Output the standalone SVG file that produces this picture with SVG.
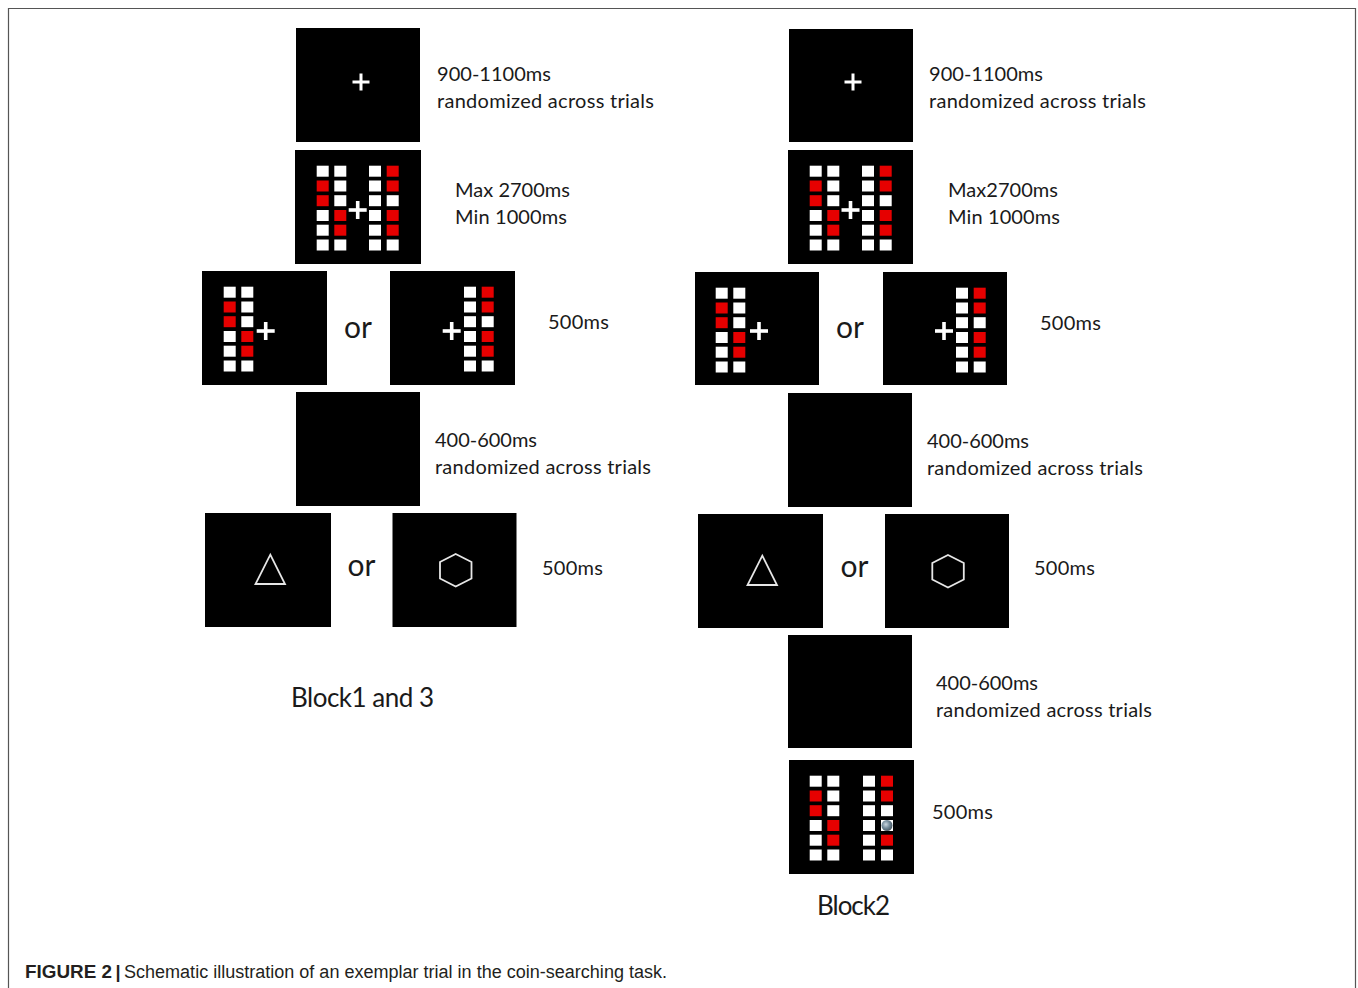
<svg xmlns="http://www.w3.org/2000/svg" xmlns:xlink="http://www.w3.org/1999/xlink" width="1358" height="988" viewBox="0 0 1358 988">
<style>
.panel{fill:#000}
.w{fill:#fff}
.r{fill:#e60000}
.lbl{font-family:Lato,"Open Sans","Noto Sans",sans-serif;font-size:20px;fill:#1a1a1a}
.or{font-family:Lato,"Open Sans","Noto Sans",sans-serif;font-size:30px;fill:#1a1a1a}
.blk{font-family:Lato,"Open Sans","Noto Sans",sans-serif;font-size:26px;fill:#1a1a1a}
.shape{fill:none;stroke:#e6e6e6;stroke-width:1.8}
.cap{font-family:"Liberation Sans",Arial,sans-serif;font-size:18px;fill:#231f20}
</style>
<defs>
<g id="colsL">
<rect class="w" x="21.7" y="15.7" width="12" height="11"/>
<rect class="r" x="21.7" y="30.5" width="12" height="11"/>
<rect class="r" x="21.7" y="45.2" width="12" height="11"/>
<rect class="w" x="21.7" y="60" width="12" height="11"/>
<rect class="w" x="21.7" y="74.7" width="12" height="11"/>
<rect class="w" x="21.7" y="89.5" width="12" height="11"/>
<rect class="w" x="39.3" y="15.7" width="12" height="11"/>
<rect class="w" x="39.3" y="30.5" width="12" height="11"/>
<rect class="w" x="39.3" y="45.2" width="12" height="11"/>
<rect class="r" x="39.3" y="60" width="12" height="11"/>
<rect class="r" x="39.3" y="74.7" width="12" height="11"/>
<rect class="w" x="39.3" y="89.5" width="12" height="11"/>
</g>
<g id="col3">
<rect class="w" x="74" y="15.7" width="12" height="11"/>
<rect class="w" x="74" y="30.5" width="12" height="11"/>
<rect class="w" x="74" y="45.2" width="12" height="11"/>
<rect class="w" x="74" y="60" width="12" height="11"/>
<rect class="w" x="74" y="74.7" width="12" height="11"/>
<rect class="w" x="74" y="89.5" width="12" height="11"/>
</g>
<g id="colsR">
<use xlink:href="#col3"/>
<rect class="r" x="91.7" y="15.7" width="12" height="11"/>
<rect class="r" x="91.7" y="30.5" width="12" height="11"/>
<rect class="w" x="91.7" y="45.2" width="12" height="11"/>
<rect class="r" x="91.7" y="60" width="12" height="11"/>
<rect class="r" x="91.7" y="74.7" width="12" height="11"/>
<rect class="w" x="91.7" y="89.5" width="12" height="11"/>
</g>
<g id="cross">
<rect class="w" x="-9" y="-1.8" width="18" height="3.6"/>
<rect class="w" x="-1.8" y="-9" width="3.6" height="18"/>
</g>
<g id="fix">
<rect class="w" x="-8.5" y="-1.5" width="17" height="3"/>
<rect class="w" x="-1.5" y="-8.5" width="3" height="17"/>
</g>
<radialGradient id="coin" cx="0.4" cy="0.4" r="0.6">
<stop offset="0" stop-color="#c9d6e0"/>
<stop offset="0.6" stop-color="#6f8797"/>
<stop offset="1" stop-color="#4d5c66"/>
</radialGradient>
</defs>

<rect x="0" y="0" width="1358" height="988" fill="#fff"/>
<path d="M8.5 995 V8.5 H1355.5 V995" fill="none" stroke="#555" stroke-width="1.2"/>

<!-- Left column: Block1 and 3 -->
<g id="L1">
<rect class="panel" x="296" y="28" width="124" height="114"/>
<use xlink:href="#fix" x="361" y="82"/>
<text class="lbl" x="437" y="81" textLength="114">900-1100ms</text>
<text class="lbl" x="437" y="108" textLength="217">randomized across trials</text>
</g>
<g id="L2">
<rect class="panel" x="295" y="150" width="126" height="114"/>
<use xlink:href="#colsL" x="295" y="150"/>
<use xlink:href="#colsR" x="295" y="150"/>
<use xlink:href="#cross" x="357.7" y="210"/>
<text class="lbl" x="455" y="197" textLength="115">Max 2700ms</text>
<text class="lbl" x="455" y="224" textLength="112">Min 1000ms</text>
</g>
<g id="L3">
<rect class="panel" x="202" y="271" width="125" height="114"/>
<use xlink:href="#colsL" x="202" y="271"/>
<use xlink:href="#cross" x="265.7" y="331"/>
<text class="or" x="344" y="338" textLength="28">or</text>
<rect class="panel" x="390" y="271" width="125" height="114"/>
<use xlink:href="#colsR" x="390" y="271"/>
<use xlink:href="#cross" x="451.7" y="331"/>
<text class="lbl" x="548" y="329" textLength="61">500ms</text>
</g>
<g id="L4">
<rect class="panel" x="296" y="392" width="124" height="114"/>
<text class="lbl" x="435" y="447" textLength="102">400-600ms</text>
<text class="lbl" x="435" y="474" textLength="216">randomized across trials</text>
</g>
<g id="L5">
<rect class="panel" x="205" y="513" width="126" height="114"/>
<polygon class="shape" points="270.3,554.7 285,584 255.5,584"/>
<text class="or" x="347.5" y="576" textLength="28">or</text>
<rect class="panel" x="392.5" y="513" width="124" height="114"/>
<polygon class="shape" points="455.7,554 471.5,562 471.5,578.5 455.7,586.5 440,578.5 440,562"/>
<text class="lbl" x="542" y="575" textLength="61">500ms</text>
</g>
<g id="LBlock">
<text class="blk" x="291" y="707" textLength="143">Block1 and 3</text>
</g>

<!-- Right column: Block2 -->
<g id="R1">
<rect class="panel" x="789" y="29" width="124" height="113"/>
<use xlink:href="#fix" x="853" y="82"/>
<text class="lbl" x="929" y="81" textLength="114">900-1100ms</text>
<text class="lbl" x="929" y="108" textLength="217">randomized across trials</text>
</g>
<g id="R2">
<rect class="panel" x="788" y="150" width="125" height="114"/>
<use xlink:href="#colsL" x="788" y="150"/>
<use xlink:href="#colsR" x="788" y="150"/>
<use xlink:href="#cross" x="850.5" y="210"/>
<text class="lbl" x="948" y="197" textLength="110">Max2700ms</text>
<text class="lbl" x="948" y="224" textLength="112">Min 1000ms</text>
</g>
<g id="R3">
<rect class="panel" x="695" y="272" width="124" height="113"/>
<use xlink:href="#colsL" x="694" y="272"/>
<use xlink:href="#cross" x="759" y="331"/>
<text class="or" x="836" y="338" textLength="28">or</text>
<rect class="panel" x="883" y="272" width="124" height="113"/>
<use xlink:href="#colsR" x="882" y="272"/>
<use xlink:href="#cross" x="944" y="331"/>
<text class="lbl" x="1040" y="330" textLength="61">500ms</text>
</g>
<g id="R4">
<rect class="panel" x="788" y="393" width="124" height="114"/>
<text class="lbl" x="927" y="448" textLength="102">400-600ms</text>
<text class="lbl" x="927" y="475" textLength="216">randomized across trials</text>
</g>
<g id="R5">
<rect class="panel" x="698" y="514" width="125" height="114"/>
<polygon class="shape" points="762.3,555.7 777,585 747.5,585"/>
<text class="or" x="840.5" y="577" textLength="28">or</text>
<rect class="panel" x="885" y="514" width="124" height="114"/>
<polygon class="shape" points="948,555 963.8,563 963.8,579.5 948,587.5 932.3,579.5 932.3,563"/>
<text class="lbl" x="1034" y="575" textLength="61">500ms</text>
</g>
<g id="R6">
<rect class="panel" x="788" y="635" width="124" height="113"/>
<text class="lbl" x="936" y="690" textLength="102">400-600ms</text>
<text class="lbl" x="936" y="717" textLength="216">randomized across trials</text>
</g>
<g id="R7">
<rect class="panel" x="789" y="760" width="125" height="114"/>
<use xlink:href="#colsL" x="788" y="760"/>
<use xlink:href="#col3" x="789" y="760"/>
<rect class="r" x="881" y="775.7" width="12" height="11"/>
<rect class="r" x="881" y="790.5" width="12" height="11"/>
<rect class="w" x="881" y="805.2" width="12" height="11"/>
<rect class="w" x="881" y="820" width="12" height="11"/>
<circle cx="887" cy="825.5" r="5.5" fill="url(#coin)"/>
<rect class="r" x="881" y="834.7" width="12" height="11"/>
<rect class="w" x="881" y="849.5" width="12" height="11"/>
<text class="lbl" x="932" y="819" textLength="61">500ms</text>
</g>
<g id="RBlock">
<text class="blk" x="817" y="915" textLength="73">Block2</text>
</g>

<g id="connectors"></g>

<g id="caption">
<text class="cap" x="25" y="978"><tspan font-weight="bold" textLength="87" lengthAdjust="spacingAndGlyphs">FIGURE 2</tspan><tspan font-weight="bold" x="115.5">|</tspan><tspan x="124" textLength="543" lengthAdjust="spacingAndGlyphs">Schematic illustration of an exemplar trial in the coin-searching task.</tspan></text>
</g>
</svg>
